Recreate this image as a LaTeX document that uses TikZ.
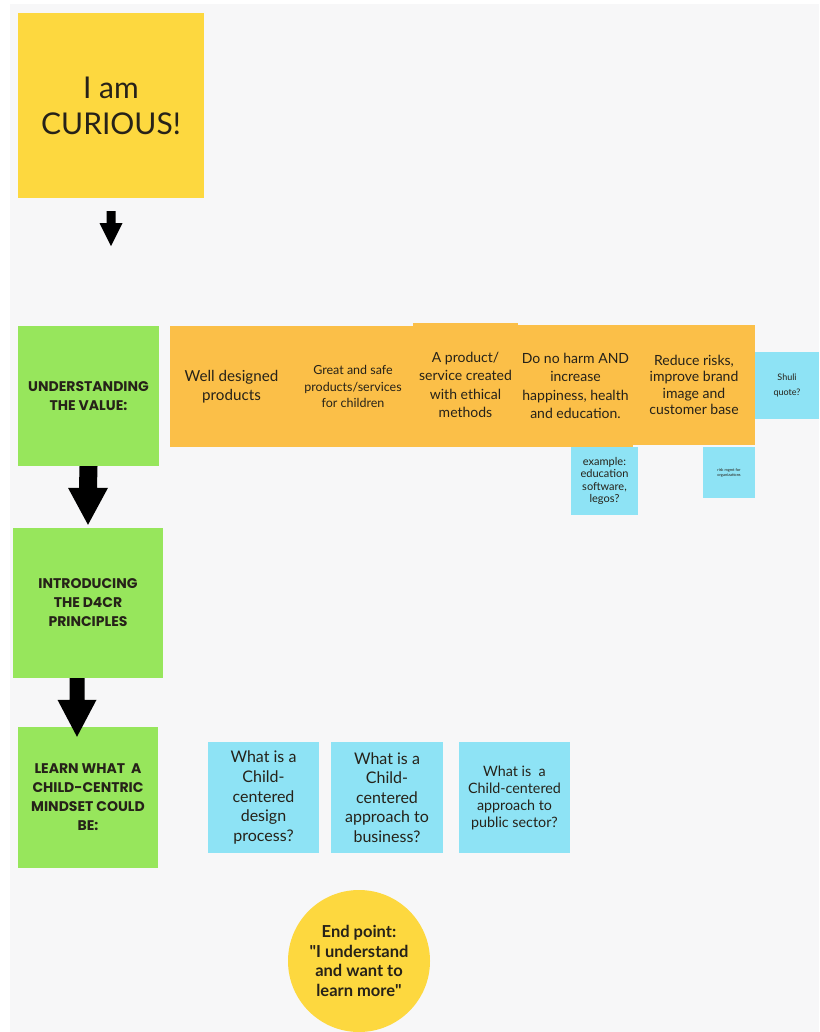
\documentclass[tikz,border=0pt]{standalone}
\usepackage{fontspec}
\setmainfont{Lato}
\newfontfamily\popf{Poppins}
\usetikzlibrary{calc}
\definecolor{bg}{HTML}{F7F7F8}
\definecolor{sy}{HTML}{FDD83F}
\definecolor{sg}{HTML}{97E65C}
\definecolor{so}{HTML}{FBBF48}
\definecolor{sc}{HTML}{8EE3F5}
\definecolor{tx}{HTML}{262219}
\tikzset{
  sticky/.style={rectangle, inner sep=0pt, align=center, text=tx},
  yel/.style={sticky, fill=sy},
  grn/.style={sticky, fill=sg, font=\popf\bfseries\fontsize{14}{19}\selectfont},
  org/.style={sticky, fill=so},
  cyn/.style={sticky, fill=sc},
}
\newcommand{\blockarrow}[5]{% start, end, shaft width, head width, head length
  \fill[black] ($(#1)+(-#3/2,0)$) -- ($(#1)+(#3/2,0)$) -- ($(#2)+(#3/2,-#5)$) -- ($(#2)+(#4/2,-#5)$)
    -- (#2) -- ($(#2)+(-#4/2,-#5)$) -- ($(#2)+(-#3/2,-#5)$) -- cycle;}
\begin{document}
\begin{tikzpicture}[x=1pt,y=-1pt]
\useasboundingbox (0,0) rectangle (819,1032);
\fill[white] (0,0) rectangle (819,1032);
\fill[bg] (10,4) rectangle (819,1032);

% left column
\node[yel, minimum width=186, minimum height=185, font=\fontsize{30}{36}\selectfont] (curious) at (111,105.5) {I am\\CURIOUS!};
\node[grn, minimum width=141, minimum height=140] (understand) at (88.5,396) {UNDERSTANDING\\THE VALUE:};
\node[grn, minimum width=150, minimum height=150] (intro) at (88,603) {INTRODUCING\\THE D4CR\\PRINCIPLES};
\node[grn, minimum width=140, minimum height=141] (learn) at (88,797.5) {LEARN WHAT\ \ A\\CHILD-CENTRIC\\MINDSET COULD\\BE:};

% orange row
\node[org, minimum width=123, minimum height=121, font=\fontsize{15.2}{18.5}\selectfont] (o1) at (231.5,386.5) {Well designed\\products};
\node[org, minimum width=120, minimum height=121, font=\fontsize{12.5}{16.5}\selectfont] (o2) at (353,386.5) {Great and safe\\products/services\\for children};
\node[org, minimum width=105, minimum height=124, font=\fontsize{14}{18.3}\selectfont] (o3) at (465.5,385) {A product/\\service created\\with ethical\\methods};
\node[org, minimum width=115, minimum height=122, font=\fontsize{14}{18.3}\selectfont] (o4) at (575.5,386) {Do no harm AND\\increase\\happiness, health\\and education.};
\node[org, minimum width=122, minimum height=120, font=\fontsize{14}{16.5}\selectfont] (o5) at (694,385) {Reduce risks,\\improve brand\\image and\\customer base};
\node[cyn, minimum width=64, minimum height=67, font=\fontsize{9}{15}\selectfont] (shuli) at (787,385.5) {Shuli\\quote?};
\node[cyn, minimum width=67, minimum height=68, font=\fontsize{11}{12.5}\selectfont] (example) at (604.5,481) {example:\\education\\software,\\legos?};
\node[cyn, minimum width=52, minimum height=51, font=\fontsize{4}{5}\selectfont] (risk) at (729,472.5) {risk mgmt for\\organizations};

% question row
\node[cyn, minimum width=111, minimum height=111, font=\fontsize{16}{19.6}\selectfont] (q1) at (263.5,797.5) {What is a\\Child-\\centered\\design\\process?};
\node[cyn, minimum width=112, minimum height=111, font=\fontsize{16}{19.6}\selectfont] (q2) at (387,797.5) {What is a\\Child-\\centered\\approach to\\business?};
\node[cyn, minimum width=111, minimum height=111, font=\fontsize{14.3}{17}\selectfont] (q3) at (514.5,797.5) {What is\ \ a\\Child-centered\\approach to\\public sector?};

% end point
\node[circle, fill=sy, minimum size=142, inner sep=0pt, align=center, text=tx, font=\bfseries\fontsize{16.5}{19.5}\selectfont] (endp) at (359,961) {End point:\\\textquotedbl I understand\\and want to\\learn more\textquotedbl};

% arrows
\coordinate (a1s) at ($(curious.south)+(0,13)$);
\coordinate (a1e) at ($(curious.south)+(0,48)$);
\blockarrow{a1s}{a1e}{9}{23}{23}
\coordinate (a2s) at (understand.south);
\coordinate (a2e) at ($(intro.north)+(0,-3)$);
\blockarrow{a2s}{a2e}{18}{40}{37}
\coordinate (a3s) at ($(intro.south)+(-11,0)$);
\coordinate (a3e) at ($(learn.north)+(-11,10)$);
\blockarrow{a3s}{a3e}{15}{39}{37}
\end{tikzpicture}
\end{document}
